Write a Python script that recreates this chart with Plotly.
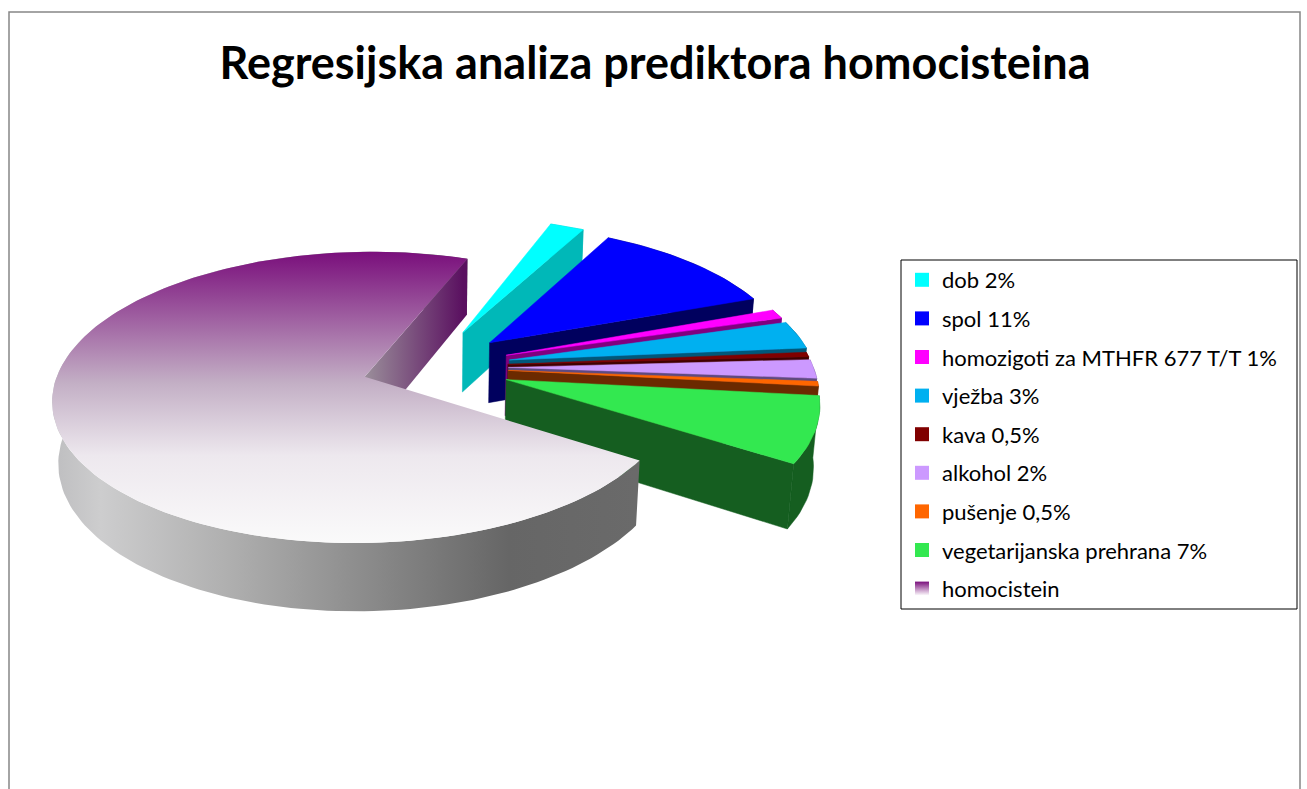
import math
import plotly.graph_objects as go

TITLE = "Regresijska analiza prediktora homocisteina"
labels = ["dob 2%", "spol 11%", "homozigoti za MTHFR 677 T/T 1%", "vježba 3%", "kava 0,5%",
          "alkohol 2%", "pušenje 0,5%", "vegetarijanska prehrana 7%", "homocistein"]
values = [2, 11, 1, 3, 0.5, 2, 0.5, 7, 68]
explode = [0.28, 0.27, 0.27, 0.27, 0.26, 0.26, 0.26, 0.265, 0.22]
top_colors = ["#00FFFF", "#0000FF", "#FF00FF", "#00B0F0", "#800000", "#CC99FF", "#FF6600", "#33E850", "#7A0F7C"]
wall_colors = ["#00B8B8", "#00005E", "#800080", "#00587A", "#400000", "#5E4A80", "#6B2A00", "#155E20", "#5A1060"]

START_ANGLE = 20.5
CX, CY, AX, BY, KP, HT, MP = 429, 367, 305, 140, 0.14, 62, 0.016


def project(x, y, depth=0.0):
    w = 1 - KP * y + MP * depth
    return CX + AX * x / w, CY + (BY * y + HT * depth) / w


def polar(a, r=1.0):
    t = math.radians(a)
    return r * math.sin(t), -r * math.cos(t)


def path(pts, depth):
    out = [project(p[0], p[1], depth) for p in pts]
    return [p[0] for p in out], [p[1] for p in out]


fig = go.Figure()


def poly(xs, ys, color=None, grad=None):
    kw = dict(x=xs + xs[:1], y=ys + ys[:1], mode="lines", fill="toself",
              showlegend=False, hoverinfo="skip")
    if grad:
        kw["fillgradient"] = grad
        kw["line"] = dict(width=0)
    else:
        kw["fillcolor"] = color
        kw["line"] = dict(width=0.5, color=color)
    fig.add_trace(go.Scatter(**kw))


total = sum(values)
angle = START_ANGLE
for i, v in enumerate(values):
    a0, a1 = angle, angle + 360 * v / total
    angle = a1
    ox, oy = polar((a0 + a1) / 2, explode[i])
    n = max(3, int((a1 - a0) / 1.5))
    arc = [(ox + polar(a0 + (a1 - a0) * j / n)[0], oy + polar(a0 + (a1 - a0) * j / n)[1]) for j in range(n + 1)]
    last = i == len(values) - 1
    # outer rim
    tx, ty = path(arc, 0)
    bx, by = path(arc, 1)
    rx, ry = tx + bx[::-1], ty + by[::-1]
    if last:
        poly(rx, ry, grad=dict(type="horizontal", start=54, stop=637,
                               colorscale=[[0, "#BEBEC0"], [0.08, "#CDCDCE"], [0.3, "#AFAFAF"], [0.78, "#666666"], [1, "#6A6A6A"]]))
    else:
        poly(rx, ry, wall_colors[i])
    # straight cut face on the clockwise edge
    face = [(ox, oy), arc[-1]]
    tx, ty = path(face, 0)
    bx, by = path(face, 1)
    fx, fy = tx + bx[::-1], ty + by[::-1]
    if last:
        poly(fx, fy, grad=dict(type="horizontal", start=365, stop=463,
                               colorscale=[[0, "#9A8E9A"], [1, "#5A1060"]]))
    else:
        poly(fx, fy, wall_colors[i])
    # top
    tp = [(ox, oy)] + arc
    tx, ty = path(tp, 0)
    if last:
        poly(tx, ty, grad=dict(type="vertical", start=252, stop=543,
                               colorscale=[[0, "#7A0F7C"], [0.45, "#C3AFC5"], [0.7, "#EDE8EE"], [1, "#FAFAFA"]]))
    else:
        poly(tx, ty, top_colors[i])

for i, name in enumerate(labels):
    marker = dict(symbol="square", size=14, color=top_colors[i], line=dict(width=0))
    if i == len(labels) - 1:
        marker["gradient"] = dict(type="vertical", color="#FFFFFF")
    fig.add_trace(go.Scatter(x=[None], y=[None], mode="markers", name=name, marker=marker,
                             legendgroup=name))

fig.update_layout(
    width=1307, height=789, margin=dict(l=0, r=0, t=0, b=0),
    paper_bgcolor="white", plot_bgcolor="white",
    font=dict(family="Lato", color="black"),
    xaxis=dict(range=[0, 1307], visible=False, fixedrange=True),
    yaxis=dict(range=[789, 0], visible=False, fixedrange=True),
    title=dict(text="<b>" + TITLE + "</b>", x=655 / 1307, xanchor="center", y=1 - 63 / 789, yanchor="middle",
               font=dict(family="Lato", size=45, color="black")),
    legend=dict(x=902 / 1307, y=1 - 259 / 789, xanchor="left", yanchor="top", traceorder="grouped",
                tracegroupgap=7, font=dict(family="Lato", size=22), bgcolor="rgba(0,0,0,0)",
                borderwidth=0, entrywidth=340, entrywidthmode="pixels"),
    shapes=[
        dict(type="rect", x0=9, y0=12, x1=1300, y1=800, line=dict(color="#868686", width=1.5), layer="below"),
        dict(type="rect", x0=901, y0=260, x1=1297, y1=609, line=dict(color="#000000", width=1), layer="below"),
    ],
)
fig.write_html("out.html", config={"displayModeBar": False},
               post_script="document.body.style.margin='0';document.body.style.overflow='hidden';")
